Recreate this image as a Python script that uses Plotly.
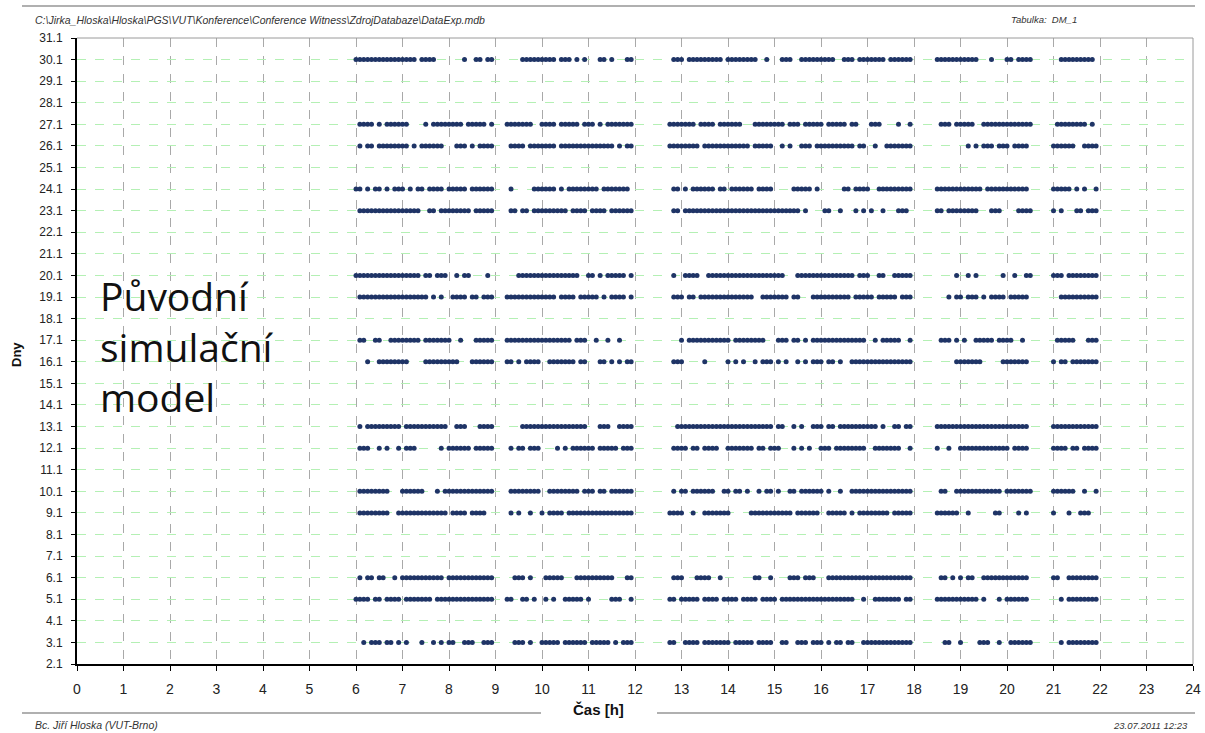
import plotly.graph_objects as go

# ---------------- data ----------------
DAYS = [30.1, 27.1, 26.1, 24.1, 23.1, 20.1, 19.1, 17.1, 16.1, 13.1, 12.1, 10.1, 9.1, 6.1, 5.1, 3.1]

# occupancy of 5-minute slots from 6:00 to 22:00, one group of 12 slots per hour (6..21)
ROW_MASKS = [
    # 30.1
    "############ ####.####... ....#..##.## .......##### ####.###.#.# ...##.#...## ..........## #.#########. "
    "########..#. ..###..##### ####..###.## #####.###### ......###### #####...#... ##.####..... ..#########.",
    # 27.1
    ".####.#.#### ##....#.#### ####.#####.# ...#######.. ####.#####.# ##.#.####### .........### ####.####.## "
    "####...##### ###.###.#### #.#####.##.. .###....#..# .......###.# ####..###### #######..... .########.#.",
    # 26.1
    ".#.##.###### ##.#.######. ..###.#.#### ....####.### ####.####### #######.#.## .........### #####.###### "
    "######.##### ..#.#..###.# #########.## ..#..####### ............ ..#.#.###.## #.####...... ######..####",
    # 24.1
    "##.#.##.#.## #.#.##.####. #####.###### ....#.....## ####.#.##### ###.#######. ..........## .#.######.## "
    ".######.#### .....#####.# ......##.### #..######### ......###### ######.##### ######...... #####.#.#..#",
    # 23.1
    ".########### #####..##.## ######.##### ....##.##.## #######.#### .####.###### ..........## .########### "
    "############ #######.#... .##..#...#.# .#..#...###. ......##.### #####...###. ...####..... #.#...##.###",
    # 20.1
    "############ #####.##.### ..#.##....#. ......###### ##########.. ##.#.#####.# ..........#. .####..##### "
    "############ ###...###### #########.## #..##..##### ...........# ..#.#......# ..#..##..... ###.########",
    # 19.1
    ".########### #######.#.#. .####.##.### ...######### ####.####.## ###.#.####.# ..........## #.##.####### "
    "#######..### ####.##...## ########.### ##.#####.### .........#.# #.###.#.#### .#####...... ..##########",
    # 17.1
    ".##..##..### #####.###### #..#...##### ...######### ########.### ..#..#..#... ............ #.########## "
    "#.########.. .###.##.#.## ############ ..#.#####..# .......###.# .#..#####.## ##..#....... .#####...###",
    # 16.1
    "...#..###### ##....###### ###...###### ...##.#.#### ..#######.## ...##.#.#.## ..........## #.....#..... "
    "#.#.#..#.### .#.#..#.#.## #.##.#..#### ############ ...........# ######.....# ######...... #.##.#######",
    # 13.1
    ".#.######### .########### ..###...#### .......##### ############ ...###..#### ...........# ############ "
    "############ .##..#.#..## #.##.####### ###.#..##.## ......###### ############ ######...... ############",
    # 12.1
    ".###..#.#..# .###......#. ######.##### ....#.##.### ....#.#.#### ##.#####.### ..........## ##.##.####.. "
    "#######.##.# ##...#.#.#.. ###.######## ..#######..# ......#..#.. ############ #.####...... ####.##.####",
    # 10.1
    ".########... ######...#.# ############ ....######## ..########.# ##.##.###### ..........#. ##.######..# "
    "#.##.#..#.## .#..##.##### #.#..#..#### ############ .......##..# ###########. #######..... ######..#..#",
    # 9.1
    ".########..# ############ .####.####.. ....#.#..#.. #.####.##### ############ .........### #..#..###### "
    "#.....###### #####.###### ..#####.#.## ######.##### ......###### ..#......##. ...#.#...... #...#..###..",
    # 6.1
    ".#.##.##..#. ###########. ############ .....###.#.. .#####...### #######...## ..........## #...####..#. "
    ".......##..# ....###.###. ..########## ############ .......##.#. #.##..###### ######...... ##..########",
    # 5.1
    "####.##.#### .#######.### ############ ...##..##.#. .#.#..#####. #.....###..# .........##. #####.####.# "
    "###.####.### #.########## #########..# ..#######.## ......###### #####.#...#. ######...... ..#.########",
    # 3.1
    "..#.###.##.# .#...#..#.#. ##..###..### .....###.#.. #####.###### .#####.#.### .........##. .####.###### "
    "#.#####.#### ..##..###.## #.#.##.##..# ############ ........##.. #....###..#. .######..... ..#.########",
]

FIRST_HOUR = 6
SLOTS_PER_HOUR = 12

X_TICKS = [0, 1, 2, 3, 4, 5, 6, 7, 8, 9, 10, 11, 12, 13, 14, 15, 16, 17, 18, 19, 20, 21, 22, 23, 24]
Y_TICKS = [2.1, 3.1, 4.1, 5.1, 6.1, 7.1, 8.1, 9.1, 10.1, 11.1, 12.1, 13.1, 14.1, 15.1, 16.1,
           17.1, 18.1, 19.1, 20.1, 21.1, 22.1, 23.1, 24.1, 25.1, 26.1, 27.1, 28.1, 29.1, 30.1, 31.1]
Y_TICK_TEXT = ["2.1", "3.1", "4.1", "5.1", "6.1", "7.1", "8.1", "9.1", "10.1", "11.1", "12.1", "13.1",
               "14.1", "15.1", "16.1", "17.1", "18.1", "19.1", "20.1", "21.1", "22.1", "23.1", "24.1",
               "25.1", "26.1", "27.1", "28.1", "29.1", "30.1", "31.1"]

X_TITLE = "Čas [h]"
Y_TITLE = "Dny"
BIG_TEXT = ["Původní", "simulační", "model"]
HEADER_LEFT = r"C:\Jirka_Hloska\Hloska\PGS\VUT\Konference\Conference Witness\ZdrojDatabaze\DataExp.mdb"
HEADER_RIGHT = "Tabulka:  DM_1"
FOOTER_LEFT = "Bc. Jiří Hloska (VUT-Brno)"
FOOTER_RIGHT = "23.07.2011 12:23"

# ---------------- decode masks into points ----------------
xs, ys = [], []
for day, mask in zip(DAYS, ROW_MASKS):
    slots = mask.replace(" ", "")
    for i, ch in enumerate(slots):
        if ch == "#":
            xs.append(FIRST_HOUR + i / SLOTS_PER_HOUR)
            ys.append(day)

# ---------------- figure ----------------
W, H = 1205, 733
L, R, T, B = 77, 12, 38, 69
PW, PH = W - L - R, H - T - B


def px(x):
    return (x - L) / PW


def py(y):
    return (H - B - y) / PH


fig = go.Figure()
fig.add_trace(go.Scatter(
    x=xs, y=ys, mode="markers",
    marker=dict(color="#1f3466", size=5, line=dict(width=0)),
    hoverinfo="skip", showlegend=False,
))

font_main = "Liberation Sans, Arial, sans-serif"

fig.update_layout(
    width=W, height=H,
    margin=dict(l=L, r=R, t=T, b=B, autoexpand=False),
    paper_bgcolor="white", plot_bgcolor="white",
    showlegend=False,
    xaxis=dict(
        range=[0, 24], tickvals=X_TICKS, ticktext=[str(v) for v in X_TICKS],
        showline=True, linecolor="black", linewidth=2,
        ticks="outside", ticklen=5, tickcolor="black", tickwidth=1,
        showgrid=True, gridcolor="#a9a9a9", gridwidth=1, griddash="dash",
        zeroline=False, tickfont=dict(family=font_main, size=14, color="#222"),
        ticklabelstandoff=6,
    ),
    yaxis=dict(
        range=[2.1, 31.1], tickvals=Y_TICKS, ticktext=Y_TICK_TEXT,
        showline=True, linecolor="black", linewidth=2,
        ticks="outside", ticklen=4, tickcolor="black", tickwidth=1,
        showgrid=True, gridcolor="#b4f0b4", gridwidth=1, griddash="dash",
        zeroline=False, tickfont=dict(family=font_main, size=12, color="#222"),
        ticklabelstandoff=6,
    ),
)

shapes = [
    # light frame around plot area (top/right)
    dict(type="line", xref="paper", yref="paper", x0=px(L), x1=px(W - R), y0=py(T), y1=py(T),
         line=dict(color="#9a9a9a", width=1)),
    dict(type="line", xref="paper", yref="paper", x0=px(W - R), x1=px(W - R), y0=py(T), y1=py(H - B),
         line=dict(color="#9a9a9a", width=1)),
    # header rule
    dict(type="line", xref="paper", yref="paper", x0=px(22), x1=px(1195), y0=py(6), y1=py(6),
         line=dict(color="#b0b0b0", width=2)),
    # footer rules around the axis title
    dict(type="line", xref="paper", yref="paper", x0=px(22), x1=px(541), y0=py(713), y1=py(713),
         line=dict(color="#b0b0b0", width=2)),
    dict(type="line", xref="paper", yref="paper", x0=px(657), x1=px(1195), y0=py(713), y1=py(713),
         line=dict(color="#b0b0b0", width=2)),
]
fig.update_layout(shapes=shapes)

ann = []
ann.append(dict(text=f"<b>{X_TITLE}</b>", x=px(598), y=py(709), xref="paper", yref="paper",
                showarrow=False, xanchor="center", yanchor="middle",
                font=dict(family=font_main, size=15, color="#111")))
ann.append(dict(text=f"<b>{Y_TITLE}</b>", x=px(16), y=py(355), xref="paper", yref="paper",
                showarrow=False, xanchor="center", yanchor="middle", textangle=-90,
                font=dict(family=font_main, size=13, color="#111")))
ann.append(dict(text=f"<i>{HEADER_LEFT}</i>", x=px(33), y=py(20), xref="paper", yref="paper",
                showarrow=False, xanchor="left", yanchor="middle",
                font=dict(family=font_main, size=10.5, color="#333")))
ann.append(dict(text=f"<i>{HEADER_RIGHT}</i>", x=px(1079), y=py(20), xref="paper", yref="paper",
                showarrow=False, xanchor="right", yanchor="middle",
                font=dict(family=font_main, size=9.5, color="#333")))
ann.append(dict(text=f"<i>{FOOTER_LEFT}</i>", x=px(33), y=py(725), xref="paper", yref="paper",
                showarrow=False, xanchor="left", yanchor="middle",
                font=dict(family=font_main, size=10.5, color="#333")))
ann.append(dict(text=f"<i>{FOOTER_RIGHT}</i>", x=px(1190), y=py(725), xref="paper", yref="paper",
                showarrow=False, xanchor="right", yanchor="middle",
                font=dict(family=font_main, size=9.5, color="#333")))
ann.append(dict(text="<br>".join(BIG_TEXT), x=px(98), y=py(346), xref="paper", yref="paper",
                showarrow=False, xanchor="left", yanchor="middle", align="left",
                font=dict(family="Open Sans, sans-serif", size=39, color="#111")))
fig.update_layout(annotations=ann)

fig.write_html("out.html")
